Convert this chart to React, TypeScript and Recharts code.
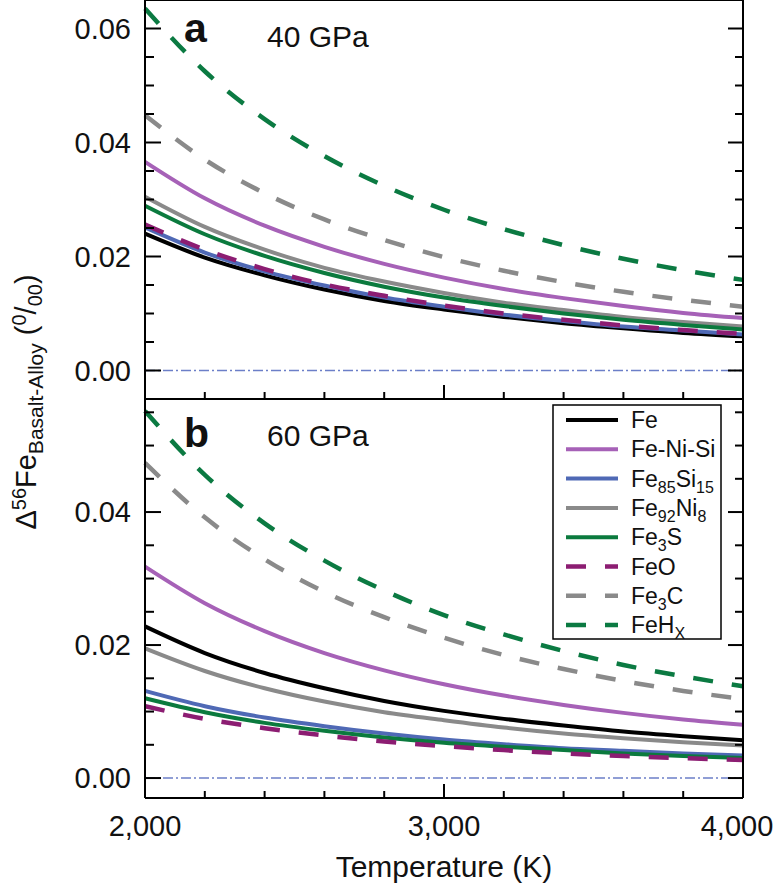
import React from "react";
import { Line, LineChart, ReferenceLine, XAxis, YAxis, Legend } from "recharts";

// temperature grid (K)
const temperatures = [2000, 2200, 2400, 2600, 2800, 3000, 3200, 3400, 3600, 3800, 4000];
const xTicks = [2000, 2200, 2400, 2600, 2800, 3000, 3200, 3400, 3600, 3800, 4000];

// panel a, 40 GPa
const fe40 = [0.024, 0.0198, 0.0167, 0.0142, 0.0122, 0.0107, 0.0094, 0.0083, 0.0074, 0.0066, 0.006];
const feNiSi40 = [0.0366, 0.0302, 0.0254, 0.0217, 0.0187, 0.0163, 0.0143, 0.0127, 0.0113, 0.0101, 0.0092];
const fe85Si15_40 = [0.0251, 0.0207, 0.0174, 0.0149, 0.0128, 0.0112, 0.0098, 0.0087, 0.0077, 0.007, 0.0063];
const fe92Ni8_40 = [0.0305, 0.0252, 0.0212, 0.018, 0.0156, 0.0136, 0.0119, 0.0106, 0.0094, 0.0085, 0.0077];
const fe3S40 = [0.0289, 0.0239, 0.0201, 0.0171, 0.0147, 0.0128, 0.0113, 0.01, 0.0089, 0.008, 0.0072];
const feO40 = [0.0256, 0.0212, 0.0178, 0.0151, 0.0131, 0.0114, 0.01, 0.0089, 0.0079, 0.0071, 0.0064];
const fe3C40 = [0.0448, 0.037, 0.0311, 0.0265, 0.0229, 0.0199, 0.0175, 0.0155, 0.0138, 0.0124, 0.0112];
const feHx40 = [0.0635, 0.0525, 0.0441, 0.0376, 0.0324, 0.0282, 0.0248, 0.022, 0.0196, 0.0176, 0.0159];

// panel b, 60 GPa
const fe60 = [0.0228, 0.0188, 0.0158, 0.0135, 0.0116, 0.0101, 0.0089, 0.0079, 0.007, 0.0063, 0.0057];
const feNiSi60 = [0.0318, 0.0263, 0.0221, 0.0188, 0.0162, 0.0141, 0.0124, 0.011, 0.0098, 0.0088, 0.008];
const fe85Si15_60 = [0.0131, 0.0108, 0.0091, 0.0078, 0.0067, 0.0058, 0.0051, 0.0045, 0.0041, 0.0037, 0.0034];
const fe92Ni8_60 = [0.0195, 0.0161, 0.0135, 0.0115, 0.0099, 0.0087, 0.0076, 0.0067, 0.006, 0.0054, 0.0049];
const fe3S60 = [0.012, 0.0099, 0.0083, 0.0071, 0.0061, 0.0053, 0.0047, 0.0042, 0.0037, 0.0033, 0.003];
const feO60 = [0.0108, 0.0089, 0.0075, 0.0064, 0.0055, 0.0048, 0.0042, 0.0037, 0.0033, 0.003, 0.0027];
const fe3C60 = [0.0474, 0.0392, 0.0329, 0.028, 0.0242, 0.0211, 0.0185, 0.0164, 0.0146, 0.0131, 0.0119];
const feHx60 = [0.0552, 0.0456, 0.0383, 0.0327, 0.0282, 0.0245, 0.0216, 0.0191, 0.017, 0.0153, 0.0138];

const topYTicks = [0, 0.005, 0.01, 0.015, 0.02, 0.025, 0.03, 0.035, 0.04, 0.045, 0.05, 0.055, 0.06];
const bottomYTicks = [0, 0.005, 0.01, 0.015, 0.02, 0.025, 0.03, 0.035, 0.04, 0.045, 0.05, 0.055];

const FONT = "'Liberation Sans', Arial, Helvetica, sans-serif";

type Seg = [string, ("sub" | "sup")?];
const seriesStyle: { key: string; label: Seg[]; color: string; dash?: string; width: number }[] = [
  { key: "fe", label: [["Fe"]], color: "#000000", width: 4 },
  { key: "feNiSi", label: [["Fe-Ni-Si"]], color: "#a661b7", width: 4 },
  { key: "fe85Si15", label: [["Fe"], ["85", "sub"], ["Si"], ["15", "sub"]], color: "#4f69b5", width: 4 },
  { key: "fe92Ni8", label: [["Fe"], ["92", "sub"], ["Ni"], ["8", "sub"]], color: "#8a8a8a", width: 4 },
  { key: "fe3S", label: [["Fe"], ["3", "sub"], ["S"]], color: "#0b7a3e", width: 4 },
  { key: "feO", label: [["FeO"]], color: "#8c1d72", dash: "20 19", width: 4.5 },
  { key: "fe3C", label: [["Fe"], ["3", "sub"], ["C"]], color: "#8a8a8a", dash: "20 19", width: 4.5 },
  { key: "feHx", label: [["FeH"], ["X", "sub"]], color: "#0b7a42", dash: "20 19", width: 4.5 },
];

const buildRows = (cols: Record<string, number[]>) =>
  temperatures.map((t, i) => {
    const row: Record<string, number> = { t };
    Object.keys(cols).forEach((k) => (row[k] = cols[k][i]));
    return row;
  });

const rows40 = buildRows({ fe: fe40, feNiSi: feNiSi40, fe85Si15: fe85Si15_40, fe92Ni8: fe92Ni8_40, fe3S: fe3S40, feO: feO40, fe3C: fe3C40, feHx: feHx40 });
const rows60 = buildRows({ fe: fe60, feNiSi: feNiSi60, fe85Si15: fe85Si15_60, fe92Ni8: fe92Ni8_60, fe3S: fe3S60, feO: feO60, fe3C: fe3C60, feHx: feHx60 });

const isMajor = (v: number, step: number) => Math.abs(v / step - Math.round(v / step)) < 1e-6;

const LeftTick = (props: any) => {
  const { x, y, payload } = props;
  const major = isMajor(payload.value, 0.02);
  return (
    <g>
      <line x1={x} y1={y} x2={x + (major ? 16 : 9)} y2={y} stroke="#000" strokeWidth={2} />
      {major && (
        <text x={x - 14} y={y} textAnchor="end" dominantBaseline="central" fontSize={29} fontFamily={FONT} fill="#111">
          {payload.value.toFixed(2)}
        </text>
      )}
    </g>
  );
};

const RightTick = (props: any) => {
  const { x, y, payload } = props;
  const major = isMajor(payload.value, 0.02);
  return <line x1={x} y1={y} x2={x - (major ? 15 : 8)} y2={y} stroke="#000" strokeWidth={2} />;
};

const makeBottomTick = (showLabels: boolean) => (props: any) => {
  const { x, y, payload } = props;
  const major = payload.value % 1000 === 0;
  return (
    <g>
      <line x1={x} y1={y} x2={x} y2={y - (major ? 14 : 7)} stroke="#000" strokeWidth={2} />
      {showLabels && major && (
        <text
          x={payload.value === 4000 ? x - 6 : x}
          y={y + 28}
          textAnchor="middle"
          dominantBaseline="central"
          fontSize={29}
          fontFamily={FONT}
          fill="#111"
        >
          {payload.value.toLocaleString("en-US")}
        </text>
      )}
    </g>
  );
};

const renderLabel = (segs: Seg[], base: number, small: number) => {
  let shift = 0;
  return segs.map(([txt, kind], i) => {
    const target = kind === "sub" ? 6 : kind === "sup" ? -10 : 0;
    const dy = target - shift;
    shift = target;
    return (
      <tspan key={i} dy={dy} fontSize={kind ? small : base}>
        {txt}
      </tspan>
    );
  });
};

const LegendBox = () => (
  <svg width={171} height={237} style={{ display: "block" }}>
    <rect x={1} y={1} width={168} height={234} fill="#fff" stroke="#000" strokeWidth={1.5} />
    {seriesStyle.map((s, i) => {
      const cy = 16 + i * 29.3;
      return (
        <g key={s.key}>
          <line x1={14} y1={cy} x2={66} y2={cy} stroke={s.color} strokeWidth={s.width} strokeDasharray={s.dash} />
          <text x={79} y={cy + 8} fontSize={23} fontFamily={FONT} fill="#111">
            {renderLabel(s.label, 23, 16)}
          </text>
        </g>
      );
    })}
  </svg>
);

const Panel: React.FC<{
  rows: Record<string, number>[];
  domain: [number, number];
  yTicks: number[];
  height: number;
  xAxisHeight: number;
  showXLabels: boolean;
  withLegend?: boolean;
}> = ({ rows, domain, yTicks, height, xAxisHeight, showXLabels, withLegend }) => (
  <LineChart width={781} height={height} data={rows} margin={{ top: 1, right: 0, bottom: 0, left: 0 }}>
    <XAxis
      dataKey="t"
      type="number"
      domain={[2000, 4000]}
      ticks={xTicks}
      interval={0}
      height={xAxisHeight}
      axisLine={{ stroke: "#000", strokeWidth: 2 }}
      tickLine={false}
      tickSize={0}
      tickMargin={0}
      tick={makeBottomTick(showXLabels)}
      label={
        showXLabels
          ? { value: "Temperature (K)", position: "insideBottom", offset: 11, fontSize: 30, fontFamily: FONT, fill: "#111" }
          : undefined
      }
    />
    <YAxis
      type="number"
      domain={domain}
      allowDataOverflow
      ticks={yTicks}
      interval={0}
      width={145}
      axisLine={{ stroke: "#000", strokeWidth: 2 }}
      tickLine={false}
      tickSize={0}
      tickMargin={0}
      tick={<LeftTick />}
    />
    <YAxis
      yAxisId="r"
      orientation="right"
      type="number"
      domain={domain}
      allowDataOverflow
      ticks={yTicks}
      interval={0}
      width={38}
      axisLine={{ stroke: "#000", strokeWidth: 2 }}
      tickLine={false}
      tickSize={0}
      tickMargin={0}
      tick={<RightTick />}
    />
    <ReferenceLine y={domain[1]} stroke="#000" strokeWidth={2} />
    <ReferenceLine y={0} stroke="#6c7fc8" strokeWidth={1.5} strokeDasharray="10 3 2 3" />
    {seriesStyle.map((s) => (
      <Line
        key={s.key}
        dataKey={s.key}
        type="monotone"
        stroke={s.color}
        strokeWidth={s.width}
        strokeDasharray={s.dash}
        dot={false}
        activeDot={false}
        isAnimationActive={false}
      />
    ))}
    {withLegend && (
      <Legend
        layout="vertical"
        align="center"
        verticalAlign="middle"
        content={() => <LegendBox />}
        wrapperStyle={{ position: "absolute", left: 552, top: 6, width: 171, height: 237 }}
      />
    )}
  </LineChart>
);

export default function App() {
  return (
    <div style={{ position: "absolute", left: 0, top: 0, width: 781, height: 888, background: "#fff", fontFamily: FONT }}>
      <div style={{ position: "absolute", left: 0, top: -1 }}>
        <Panel rows={rows40} domain={[-0.005, 0.065]} yTicks={topYTicks} height={401} xAxisHeight={1} showXLabels={false} />
      </div>
      <div style={{ position: "absolute", left: 0, top: 398 }}>
        <Panel
          rows={rows60}
          domain={[-0.003, 0.057]}
          yTicks={bottomYTicks}
          height={490}
          xAxisHeight={90}
          showXLabels
          withLegend
        />
      </div>
      <svg width={781} height={888} style={{ position: "absolute", left: 0, top: 0, pointerEvents: "none" }}>
        <text x={184} y={42} fontSize={41} fontWeight="bold" fontFamily={FONT} fill="#111">a</text>
        <text x={267} y={47} fontSize={30} fontFamily={FONT} fill="#111">40 GPa</text>
        <text x={184} y={447} fontSize={41} fontWeight="bold" fontFamily={FONT} fill="#111">b</text>
        <text x={267} y={446} fontSize={30} fontFamily={FONT} fill="#111">60 GPa</text>
        <text
          x={36}
          y={402}
          transform="rotate(-90 36 402)"
          textAnchor="middle"
          fontSize={29}
          fontFamily={FONT}
          fill="#111"
        >
          <tspan>Δ</tspan>
          <tspan dy={-10} fontSize={20}>56</tspan>
          <tspan dy={10}>Fe</tspan>
          <tspan dy={7} fontSize={21}>Basalt-Alloy</tspan>
          <tspan dy={-7}> (</tspan>
          <tspan dy={-10} fontSize={20}>0</tspan>
          <tspan dy={10}>/</tspan>
          <tspan dy={6} fontSize={20}>00</tspan>
          <tspan dy={-6}>)</tspan>
        </text>
      </svg>
    </div>
  );
}
